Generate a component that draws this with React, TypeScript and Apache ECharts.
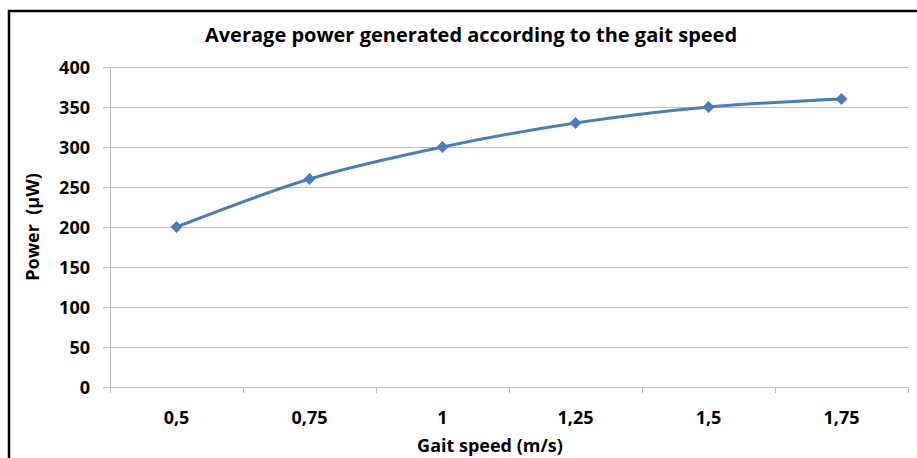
import React, { useEffect, useRef } from "react";
import * as echarts from "echarts";

const categories = ["0,5", "0,75", "1", "1,25", "1,5", "1,75"];
const powerValues = [200, 260, 300, 330, 350, 360];
const yTicks = { min: 0, max: 400, interval: 50 };

const FONT = "Open Sans";

export default function App() {
  const ref = useRef<HTMLDivElement>(null);
  useEffect(() => {
    if (!ref.current) return;
    const chart = echarts.init(ref.current, undefined, { renderer: "svg" });
    chart.setOption({
      animation: false,
      backgroundColor: "#ffffff",
      title: {
        text: "Average power generated according to the gait speed",
        left: 466,
        textAlign: "center",
        top: 19,
        textStyle: { fontFamily: FONT, fontWeight: "bold", fontSize: 20, color: "#000" },
      },
      graphic: [
        {
          type: "rect",
          shape: { x: 9, y: 11, width: 920, height: 460 },
          style: { fill: "none", stroke: "#000", lineWidth: 2.5 },
          silent: true,
        },
        {
          type: "text",
          x: 490,
          y: 445,
          style: {
            text: "Gait speed (m/s)",
            fontFamily: FONT,
            fontWeight: "bold",
            fontSize: 18,
            fill: "#000",
            align: "center",
            verticalAlign: "middle",
          },
        },
      ],
      grid: { left: 110, right: 9, top: 67, bottom: 71 },
      xAxis: {
        type: "category",
        data: categories,
        boundaryGap: true,
        axisLine: { lineStyle: { color: "#bdbdbd", width: 1 } },
        axisTick: { show: true, length: 6, lineStyle: { color: "#bdbdbd" } },
        axisLabel: { fontFamily: FONT, fontWeight: "bold", fontSize: 18, color: "#000", margin: 21 },
      },
      yAxis: {
        type: "value",
        min: yTicks.min,
        max: yTicks.max,
        interval: yTicks.interval,
        name: "Power  (µW)",
        nameLocation: "middle",
        nameGap: 69,
        nameRotate: 90,
        nameTextStyle: { fontFamily: FONT, fontWeight: "bold", fontSize: 18, color: "#000" },
        axisLine: { show: true, lineStyle: { color: "#bdbdbd", width: 1 } },
        axisTick: { show: true, length: 7, lineStyle: { color: "#bdbdbd" } },
        splitLine: { show: true, lineStyle: { color: "#bdbdbd", width: 1 } },
        axisLabel: { fontFamily: FONT, fontWeight: "bold", fontSize: 18, color: "#000", margin: 20 },
      },
      series: [
        {
          type: "line",
          data: powerValues,
          smooth: 0.3,
          symbol: "diamond",
          symbolSize: 12,
          lineStyle: { color: "#4a7ebb", width: 3 },
          itemStyle: { color: "#4a7ebb" },
        },
      ],
    });
    return () => chart.dispose();
  }, []);
  return <div ref={ref} style={{ width: 917, height: 458, position: "fixed", left: 0, top: 0 }} />;
}
